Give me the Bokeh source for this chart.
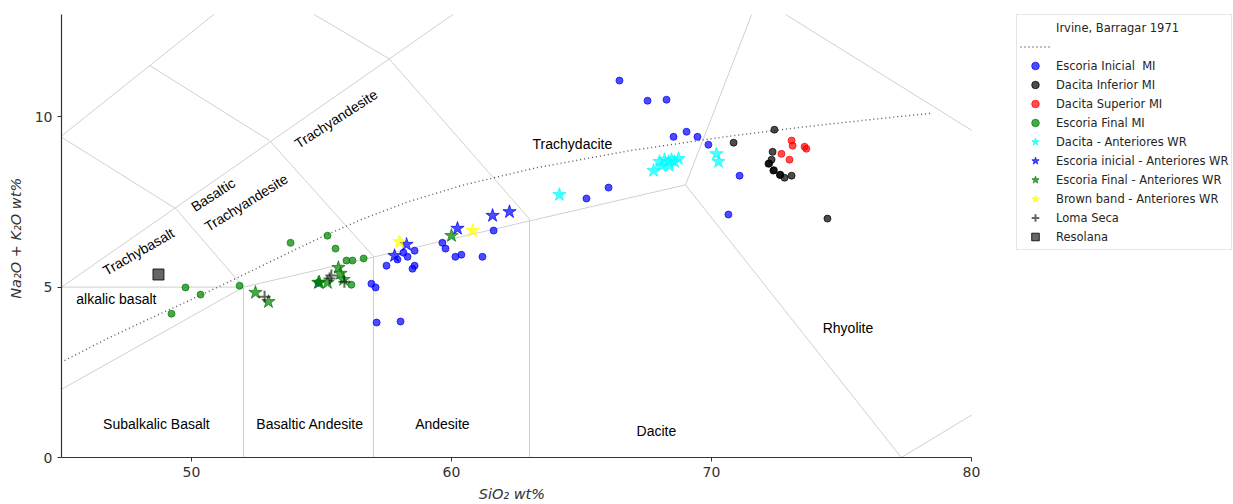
from bokeh.plotting import figure
from bokeh.layouts import row
from bokeh.models import Range1d, Legend, LegendItem, ColumnDataSource
from bokeh.embed import file_html
from bokeh.resources import INLINE
from bokeh.core.properties import value

# ---------------- data ----------------
# Escoria Inicial MI (melt inclusions)
esc_ini_mi_x = [66.46, 67.54, 68.27, 68.54, 69.04, 69.46, 69.88, 71.08, 70.65, 66.04, 65.19,
                61.62, 61.19, 59.65, 59.77, 60.15, 60.38, 58.15, 58.31, 58.58, 57.92, 57.50,
                58.58, 58.50, 56.92, 57.08, 57.12, 58.04, 54.88]
esc_ini_mi_y = [11.06, 10.47, 10.50, 9.41, 9.56, 9.41, 9.18, 8.27, 7.13, 7.92, 7.60,
                6.66, 5.89, 6.30, 6.13, 5.89, 5.95, 6.01, 5.89, 6.07, 5.81, 5.63,
                5.63, 5.54, 5.10, 4.99, 3.96, 3.99, 5.13]
# Dacita Inferior MI
dac_inf_mi_x = [72.42, 70.85, 72.35, 72.31, 72.19, 72.38, 72.65, 72.81, 73.08, 74.46, 72.22, 72.40, 72.63]
dac_inf_mi_y = [9.62, 9.24, 8.97, 8.74, 8.62, 8.42, 8.30, 8.21, 8.27, 7.01, 8.63, 8.43, 8.29]
# Dacita Superior MI
dac_sup_mi_x = [73.08, 73.12, 72.69, 73.00, 73.58, 73.65]
dac_sup_mi_y = [9.30, 9.15, 8.91, 8.74, 9.12, 9.06]
# Escoria Final MI
esc_fin_mi_x = [49.77, 50.35, 49.23, 51.85, 53.81, 55.23, 55.54, 55.96, 56.19, 56.62, 56.15]
esc_fin_mi_y = [4.99, 4.78, 4.22, 5.04, 6.30, 6.51, 6.13, 5.78, 5.78, 5.84, 5.07]
# Dacita - Anteriores WR
dac_wr_x = [67.77, 68.00, 68.19, 68.35, 68.46, 68.58, 68.73, 68.08, 68.38, 70.19, 70.27, 64.15]
dac_wr_y = [8.42, 8.68, 8.74, 8.68, 8.74, 8.68, 8.77, 8.56, 8.56, 8.91, 8.68, 7.71]
# Escoria inicial - Anteriores WR
esc_ini_wr_x = [58.27, 57.81, 60.23, 61.58, 62.23]
esc_ini_wr_y = [6.25, 5.92, 6.72, 7.10, 7.21]
# Escoria Final - Anteriores WR
esc_fin_wr_x = [60.00, 52.46, 52.96, 54.88, 54.92, 55.23, 55.65, 55.73, 55.85]
esc_fin_wr_y = [6.51, 4.84, 4.57, 5.13, 5.14, 5.13, 5.57, 5.40, 5.22]
# Brown band - Anteriores WR
brown_wr_x = [58.00, 60.81]
brown_wr_y = [6.33, 6.66]
# Loma Seca
loma_x = [52.81, 55.38, 55.31, 55.88]
loma_y = [4.72, 5.34, 5.25, 5.16]
# Resolana
resol_x = [48.73]
resol_y = [5.37]

# Irvine & Baragar (1971) alkaline / subalkaline divide
ib_sio2 = [43.27, 45.00, 46.79, 48.18, 49.61, 51.01, 52.38, 53.72, 55.09, 56.59, 58.32,
           60.47, 63.25, 66.82, 70.41, 73.54, 75.91, 77.15, 78.46]
ib_alk = [2.0, 2.8, 3.5, 4.0, 4.5, 5.0, 5.5, 6.0, 6.5, 7.0, 7.5,
          8.0, 8.5, 9.0, 9.4, 9.7, 9.9, 10.0, 10.1]

# TAS field boundaries (Le Maitre) as segments
tas_x = [[45, 52], [45, 52], [45, 61], [52, 69], [49.4, 52], [52, 52], [48.4, 53],
         [53, 57], [57, 57], [52.5, 57.6], [57.6, 63], [63, 63], [45, 49.4],
         [69, 77.3], [41, 52.5], [69, 71.8], [77.3, 87.5], [71.8, 85.9]]
tas_y = [[2, 5], [5, 5], [5, 13.5], [5, 8], [7.3, 5], [5, 0], [11.5, 9.3],
         [9.3, 5.9], [5.9, 0], [14, 11.7], [11.7, 7], [7, 0], [9.4, 7.3],
         [8, 0], [7, 14], [8, 13.5], [0, 4.7], [13.5, 6.8]]

# field names
field_names = ["Trachybasalt", "Basaltic", "Trachyandesite", "Trachyandesite", "Trachydacite",
               "alkalic basalt", "Subalkalic Basalt", "Basaltic Andesite", "Andesite",
               "Dacite", "Rhyolite"]
field_x = [47.96, 50.83, 52.10, 55.56, 64.65, 47.11, 48.65, 54.56, 59.65, 67.88, 75.25]
field_y = [6.04, 7.71, 7.48, 9.94, 9.21, 4.66, 0.97, 0.97, 0.97, 0.79, 3.81]
field_angle = [30, 33, 32, 33, 0, 0, 0, 0, 0, 0, 0]

x_ticks = [50, 60, 70, 80]
y_ticks = [0, 5, 10]

series_labels = ["Escoria Inicial  MI", "Dacita Inferior MI", "Dacita Superior MI", "Escoria Final MI",
                 "Dacita - Anteriores WR", "Escoria inicial - Anteriores WR",
                 "Escoria Final - Anteriores WR", "Brown band - Anteriores WR", "Loma Seca", "Resolana"]

# ---------------- styles ----------------
styles = [
    dict(marker="circle", size=7, color="blue", alpha=0.7),
    dict(marker="circle", size=7, color="black", alpha=0.7),
    dict(marker="circle", size=7, color="red", alpha=0.7),
    dict(marker="circle", size=7, color="green", alpha=0.7),
    dict(marker="star", size=14, color="cyan", alpha=0.7),
    dict(marker="star", size=14, color="blue", alpha=0.7),
    dict(marker="star", size=14, color="green", alpha=0.7),
    dict(marker="star", size=14, color="yellow", alpha=0.7),
    dict(marker="cross", size=12, line_color="black", line_alpha=0.6, line_width=2),
    dict(marker="square", size=11, fill_color="black", fill_alpha=0.6, line_color="black", line_alpha=0.8),
]
ib_style = dict(line_color="#555555", line_width=1.4, line_dash="1 3")

series_x = [esc_ini_mi_x, dac_inf_mi_x, dac_sup_mi_x, esc_fin_mi_x, dac_wr_x, esc_ini_wr_x,
            esc_fin_wr_x, brown_wr_x, loma_x, resol_x]
series_y = [esc_ini_mi_y, dac_inf_mi_y, dac_sup_mi_y, esc_fin_mi_y, dac_wr_y, esc_ini_wr_y,
            esc_fin_wr_y, brown_wr_y, loma_y, resol_y]

# ---------------- main figure ----------------
p = figure(width=981, height=504, output_backend="svg", toolbar_location=None,
           x_range=Range1d(45, 80), y_range=Range1d(0, 13),
           min_border_left=61, min_border_right=10, min_border_top=14, min_border_bottom=46)
p.background_fill_color = "white"
p.border_fill_color = "white"
p.outline_line_color = None
p.xgrid.visible = False
p.ygrid.visible = False

p.multi_line(xs=tas_x, ys=tas_y, line_color="#d0d0d0", line_width=1)

src_lab = ColumnDataSource(dict(x=field_x, y=field_y, t=field_names, a=field_angle))
p.text(x="x", y="y", text="t", angle="a", angle_units="deg", source=src_lab,
       text_font=value("Liberation Sans"), text_font_size="14px", text_color="black",
       text_align="center", text_baseline="middle")

p.line(ib_sio2, ib_alk, **ib_style)
for xs, ys, st in zip(series_x, series_y, styles):
    p.scatter(xs, ys, **st)

for ax in (p.xaxis, p.yaxis):
    ax.axis_line_color = "#333333"
    ax.axis_line_width = 1.2
    ax.major_tick_line_color = "#333333"
    ax.major_tick_out = 4
    ax.major_tick_in = 0
    ax.minor_tick_line_color = None
    ax.major_label_text_font = "DejaVu Sans"
    ax.major_label_text_font_size = "14px"
    ax.major_label_text_color = "#333333"
    ax.axis_label_text_font = "DejaVu Sans"
    ax.axis_label_text_font_size = "14.5px"
    ax.axis_label_text_font_style = "italic"
    ax.axis_label_text_color = "#333333"
p.xaxis.ticker = x_ticks
p.yaxis.ticker = y_ticks
p.xaxis.axis_label = "SiO\u2082   wt%"
p.yaxis.axis_label = "Na\u2082O + K\u2082O  wt%"
p.xaxis.axis_label_standoff = 6
p.xaxis.major_label_standoff = 5
p.yaxis.axis_label_standoff = 8

# ---------------- legend figure ----------------
# same series drawn again in a panel whose ranges keep them out of view; only its legend shows
pl = figure(width=252, height=504, output_backend="svg", toolbar_location=None,
            x_range=Range1d(0, 1), y_range=Range1d(0, 1),
            x_axis_location=None, y_axis_location=None,
            min_border_left=35, min_border_right=0, min_border_top=12, min_border_bottom=0)
pl.outline_line_color = None
pl.xgrid.visible = False
pl.ygrid.visible = False
pl.background_fill_color = "white"
pl.border_fill_color = "white"

r_blank = pl.line(ib_sio2, ib_alk, line_alpha=0)
r_ib = pl.line(ib_sio2, ib_alk, **ib_style)
items = [LegendItem(label="Irvine, Barragar 1971", renderers=[r_blank]),
         LegendItem(label=" ", renderers=[r_ib])]
for xs, ys, lab, st in zip(series_x, series_y, series_labels, styles):
    r = pl.scatter(xs, ys, **st)
    items.append(LegendItem(label=lab, renderers=[r]))

legend = Legend(items=items, location="top_left")
legend.label_text_font = "DejaVu Sans"
legend.label_text_font_size = "11.5px"
legend.label_text_color = "#262626"
legend.glyph_height = 19
legend.glyph_width = 30
legend.label_height = 19
legend.spacing = 0
legend.padding = 3
legend.margin = 0
legend.label_standoff = 6
legend.border_line_color = "#cccccc"
legend.border_line_width = 1
legend.background_fill_color = "white"
legend.background_fill_alpha = 1
pl.add_layout(legend, "center")

layout = row(p, pl)
open("out.html", "w").write(file_html(layout, INLINE))
